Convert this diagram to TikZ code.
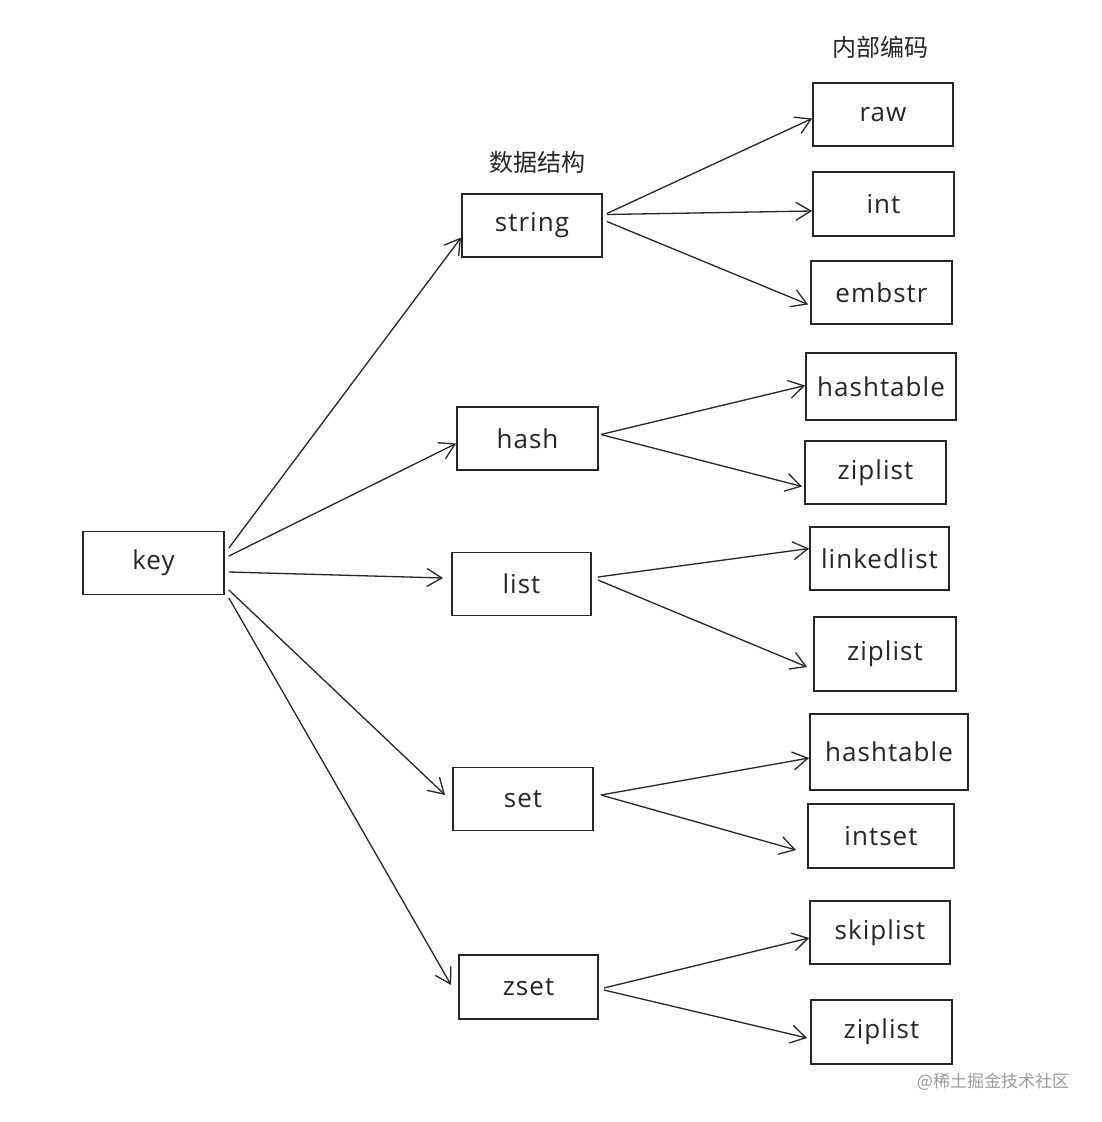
\documentclass[tikz,border=0pt]{standalone}
\usepackage{fontspec}
\setmainfont{Open Sans}[LetterSpace=4]
\newfontfamily\cjk{Noto Sans CJK SC}
\usetikzlibrary{arrows.meta,calc}
\definecolor{ink}{HTML}{262626}
\definecolor{wm}{HTML}{9A9A9A}
\tikzset{
  box/.style={draw=ink, line width=1.8pt, inner sep=0pt, text=ink,
    font=\fontsize{26}{30}\selectfont, minimum height=63pt},
  conn/.style={draw=ink, line width=1.3pt, -{Straight Barb[length=15pt,width=18pt,line width=1.3pt]}},
  heading/.style={text=ink, font=\cjk\fontsize{24}{28}\selectfont},
}
\begin{document}
\begin{tikzpicture}[x=1pt,y=-1pt]
\useasboundingbox (0,0) rectangle (1102,1122);
\fill[white] (0,0) rectangle (1102,1122);
% headings
\node[heading] (h1) at (537,162) {数据结构};
\node[heading] (h2) at (880,47) {内部编码};
% nodes
\node[box, minimum width=141pt] (key) at (153.5,563) {key};
\node[box, minimum width=140pt] (string) at (532,225.5) {string};
\node[box, minimum width=141pt] (hash) at (527.5,438.5) {hash};
\node[box, minimum width=139pt] (list) at (521.5,584) {list};
\node[box, minimum width=140pt] (set) at (523,799) {set};
\node[box, minimum width=139pt, minimum height=64pt] (zset) at (528.5,987) {zset};
\node[box, minimum width=140pt] (raw) at (883,114.5) {raw};
\node[box, minimum width=141pt, minimum height=64pt] (int) at (883.5,204) {int};
\node[box, minimum width=141pt] (embstr) at (881.5,292.5) {embstr};
\node[box, minimum width=150pt, minimum height=67pt] (ht1) at (881,386.5) {hashtable};
\node[box, minimum width=141pt] (zl1) at (875.5,472.5) {ziplist};
\node[box, minimum width=139pt] (ll) at (879.5,558.5) {linkedlist};
\node[box, minimum width=142pt, minimum height=74pt] (zl2) at (885,654) {ziplist};
\node[box, minimum width=158pt, minimum height=76pt] (ht2) at (889,752) {hashtable};
\node[box, minimum width=146pt, minimum height=64pt] (intset) at (881,836) {intset};
\node[box, minimum width=140pt] (skip) at (880,932.5) {skiplist};
\node[box, minimum width=141pt, minimum height=64pt] (zl3) at (881.5,1032) {ziplist};
% watermark
\node[text=wm, font=\cjk\fontsize{17}{20}\selectfont] (wmk) at (993,1082) {@稀土掘金技术社区};
% connectors key -> structures
\draw[conn] ($(key.east)+(4,-15)$) -- ($(string.west)+(0,12)$);
\draw[conn] ($(key.east)+(4,-7)$) -- ($(hash.west)+(0,5)$);
\draw[conn] ($(key.east)+(4,9)$) -- ($(list.west)+(-8,-6)$);
\draw[conn] ($(key.east)+(4,27)$) -- ($(set.west)+(-7,-4)$);
\draw[conn] ($(key.east)+(4,35)$) -- ($(zset.west)+(-7,-2)$);
% string
\draw[conn] ($(string.east)+(4,-12)$) -- ($(raw.west)+(0,4)$);
\draw[conn] ($(string.east)+(4,-11)$) -- ($(int.west)+(0,7)$);
\draw[conn] ($(string.east)+(4,-4)$) -- ($(embstr.west)+(-2,12)$);
% hash
\draw[conn] ($(hash.east)+(2,-4)$) -- ($(ht1.west)+(0,-1)$);
\draw[conn] ($(hash.east)+(2,-4)$) -- ($(zl1.west)+(-2,14)$);
% list
\draw[conn] ($(list.east)+(6,-7)$) -- ($(ll.west)+(0,-10)$);
\draw[conn] ($(list.east)+(6,-4)$) -- ($(zl2.west)+(-6,13)$);
% set
\draw[conn] ($(set.east)+(7,-4)$) -- ($(ht2.west)+(0,6)$);
\draw[conn] ($(set.east)+(7,-4)$) -- ($(intset.west)+(-11,14)$);
% zset
\draw[conn] ($(zset.east)+(5,1)$) -- ($(skip.west)+(0,5.5)$);
\draw[conn] ($(zset.east)+(5,3)$) -- ($(zl3.west)+(-3,6)$);
\end{tikzpicture}
\end{document}
